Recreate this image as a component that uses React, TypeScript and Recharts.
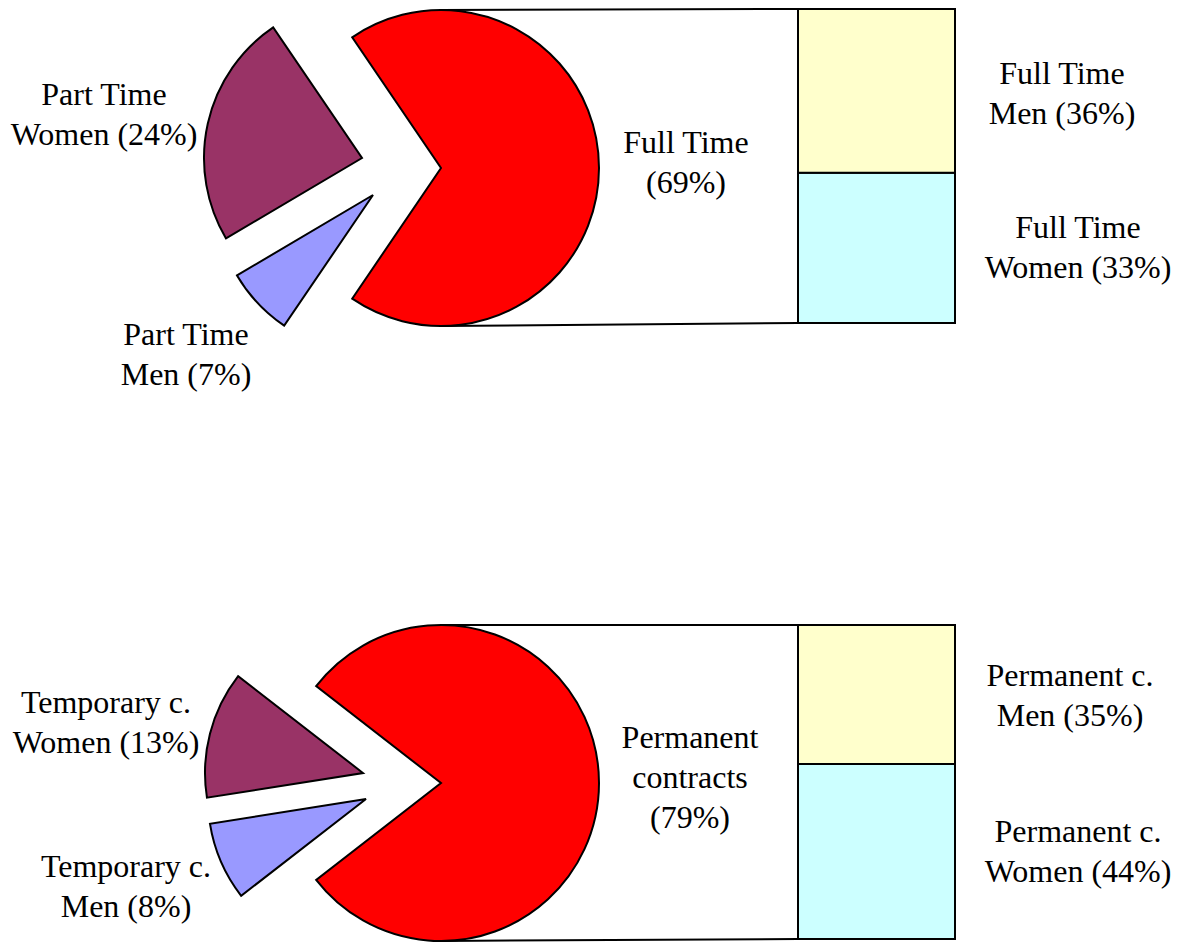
import React from "react";
import { PieChart, Pie, Cell, BarChart, Bar, XAxis, YAxis } from "recharts";

// top chart: full time vs part time
const topPieNames = ["Full Time\n", "Part Time\nWomen", "Part Time\nMen"];
const topPieValues = [69, 24, 7];
const topBarNames = ["Full Time\nWomen", "Full Time\nMen"];
const topBarValues = [33, 36];

// bottom chart: permanent vs temporary contracts
const botPieNames = ["Permanent\ncontracts\n", "Temporary c.\nWomen", "Temporary c.\nMen"];
const botPieValues = [79, 13, 8];
const botBarNames = ["Permanent c.\nWomen", "Permanent c.\nMen"];
const botBarValues = [44, 35];

const pieColors = ["#FF0000", "#993366", "#9999FF"];
const barColors = ["#CCFFFF", "#FFFFCC"];

const RADIUS = 158;
const FONT = "'Liberation Serif', 'Times New Roman', serif";

// slice centres (exploded slices are shifted left)
const topCenters = [
  { cx: 441, cy: 168 },
  { cx: 362, cy: 158 },
  { cx: 373, cy: 195 },
];
const botCenters = [
  { cx: 441, cy: 783 },
  { cx: 363, cy: 773 },
  { cx: 366, cy: 799 },
];

// first-line baseline of each label
const topPieLabelPos = [
  { x: 686, y: 153 },
  { x: 104, y: 105 },
  { x: 186, y: 345 },
];
const topBarLabelPos = [
  { x: 1078, y: 238 },
  { x: 1062, y: 84 },
];
const botPieLabelPos = [
  { x: 690, y: 748 },
  { x: 106, y: 713 },
  { x: 126, y: 877 },
];
const botBarLabelPos = [
  { x: 1078, y: 842 },
  { x: 1070, y: 686 },
];

const BAR_LEFT = 798;
const BAR_WIDTH = 157;
const BAR_HEIGHT = 314;
const topBarTop = 9;
const botBarTop = 625;

function labelLines(name: string, value: number) {
  const lines = name.split("\n");
  const last = lines.pop() || "";
  lines.push((last + " (" + value + "%)").trim());
  return lines;
}

function angles(values: number[]) {
  const gap = (360 * (100 - values[0])) / 100;
  const start = 180 + gap / 2 - 360;
  return { start, end: start + 360 };
}

function PieGroup(names: string[], values: number[], centers: { cx: number; cy: number }[], key: string) {
  const data = names.map((n, i) => ({ name: n, value: values[i] }));
  const { start, end } = angles(values);
  return centers.map((c, idx) => (
    <Pie
      key={key + idx}
      data={data}
      dataKey="value"
      nameKey="name"
      cx={c.cx}
      cy={c.cy}
      outerRadius={RADIUS}
      startAngle={start}
      endAngle={end}
      label={false}
      labelLine={false}
      isAnimationActive={false}
    >
      {data.map((d, i) => (
        <Cell
          key={i}
          fill={i === idx ? pieColors[i] : "none"}
          stroke={i === idx ? "#000" : "none"}
          strokeWidth={2}
        />
      ))}
    </Pie>
  ));
}

function StackBar(names: string[], values: number[], top: number) {
  const row: any = { name: "bar" };
  names.forEach((n, i) => (row["s" + i] = values[i]));
  const total = values.reduce((a, b) => a + b, 0);
  return (
    <div style={{ position: "absolute", left: BAR_LEFT - 1, top: top - 1 }}>
      <BarChart
        width={BAR_WIDTH + 2}
        height={BAR_HEIGHT + 2}
        data={[row]}
        margin={{ top: 1, right: 1, bottom: 1, left: 1 }}
        barCategoryGap={0}
      >
        <XAxis dataKey="name" hide />
        <YAxis hide domain={[0, total]} />
        {names.map((n, i) => (
          <Bar
            key={i}
            dataKey={"s" + i}
            stackId="a"
            fill={barColors[i]}
            stroke="#000"
            strokeWidth={2}
            isAnimationActive={false}
          />
        ))}
      </BarChart>
    </div>
  );
}

function Labels(names: string[], values: number[], pos: { x: number; y: number }[]) {
  return names.map((n, i) => (
    <text
      key={n}
      x={pos[i].x}
      y={pos[i].y}
      textAnchor="middle"
      fontFamily={FONT}
      fontSize={32}
      fill="#000"
    >
      {labelLines(n, values[i]).map((l, j) => (
        <tspan key={j} x={pos[i].x} dy={j === 0 ? 0 : 40}>
          {l}
        </tspan>
      ))}
    </text>
  ));
}

export default function App() {
  const topMain = topCenters[0];
  const botMain = botCenters[0];
  return (
    <div style={{ position: "absolute", left: 0, top: 0, width: 1181, height: 942, background: "#fff" }}>
      <svg width={1181} height={942} style={{ position: "absolute", left: 0, top: 0 }}>
        <line x1={topMain.cx} y1={topMain.cy - RADIUS} x2={BAR_LEFT} y2={topBarTop} stroke="#000" strokeWidth={2} />
        <line x1={topMain.cx} y1={topMain.cy + RADIUS} x2={BAR_LEFT} y2={topBarTop + BAR_HEIGHT} stroke="#000" strokeWidth={2} />
        <line x1={botMain.cx} y1={botMain.cy - RADIUS} x2={BAR_LEFT} y2={botBarTop} stroke="#000" strokeWidth={2} />
        <line x1={botMain.cx} y1={botMain.cy + RADIUS} x2={BAR_LEFT} y2={botBarTop + BAR_HEIGHT} stroke="#000" strokeWidth={2} />
      </svg>
      <div style={{ position: "absolute", left: 0, top: 0 }}>
        <PieChart width={1181} height={942} margin={{ top: 0, right: 0, bottom: 0, left: 0 }}>
          {PieGroup(topPieNames, topPieValues, topCenters, "t")}
          {PieGroup(botPieNames, botPieValues, botCenters, "b")}
        </PieChart>
      </div>
      {StackBar(topBarNames, topBarValues, topBarTop)}
      {StackBar(botBarNames, botBarValues, botBarTop)}
      <svg width={1181} height={942} style={{ position: "absolute", left: 0, top: 0, pointerEvents: "none" }}>
        {Labels(topPieNames, topPieValues, topPieLabelPos)}
        {Labels(topBarNames, topBarValues, topBarLabelPos)}
        {Labels(botPieNames, botPieValues, botPieLabelPos)}
        {Labels(botBarNames, botBarValues, botBarLabelPos)}
      </svg>
    </div>
  );
}
